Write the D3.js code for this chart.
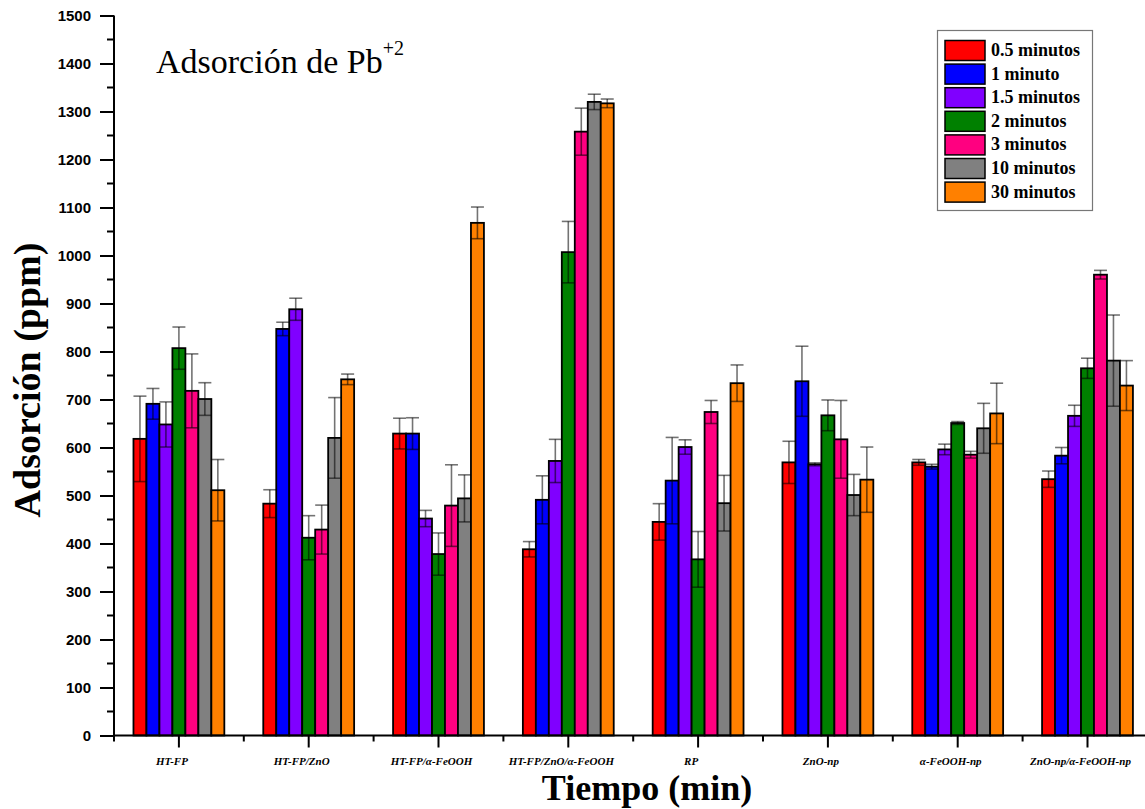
<!DOCTYPE html>
<html>
<head>
<meta charset="utf-8">
<script src="https://cdn.jsdelivr.net/npm/d3@7/dist/d3.min.js"></script>
<style>
  html, body { margin: 0; padding: 0; background: #fff; }
  svg { display: block; }
</style>
</head>
<body>
<script>
// Lead (Pb+2) adsorption per material, for each contact time
const categories = ["HT-FP", "HT-FP/ZnO", "HT-FP/α-FeOOH", "HT-FP/ZnO/α-FeOOH", "RP", "ZnO-np", "α-FeOOH-np", "ZnO-np/α-FeOOH-np"];
const seriesNames = ["0.5 minutos", "1 minuto", "1.5 minutos", "2 minutos", "3 minutos", "10 minutos", "30 minutos"];
const seriesColors = ["#FF0000", "#0000FF", "#8000FF", "#008000", "#FF0080", "#808080", "#FF8000"];

const min05 = [618, 483, 629, 388, 445, 569, 569, 534];
const min1  = [691, 847, 629, 491, 531, 738, 560, 583];
const min15 = [648, 888, 452, 572, 601, 565, 596, 666];
const min2  = [807, 412, 378, 1007, 367, 667, 651, 765];
const min3  = [718, 429, 479, 1258, 674, 617, 585, 960];
const min10 = [701, 620, 494, 1320, 484, 501, 640, 781];
const min30 = [511, 742, 1068, 1317, 734, 533, 671, 729];

const err05 = [89, 29, 32, 16, 38, 44, 6, 17];
const err1  = [32, 14, 33, 50, 90, 73, 5, 17];
const err15 = [47, 23, 17, 45, 15, 3, 11, 22];
const err2  = [44, 46, 44, 64, 58, 32, 3, 21];
const err3  = [77, 51, 85, 49, 24, 81, 7, 9];
const err10 = [34, 84, 49, 16, 58, 43, 52, 95];
const err30 = [64, 11, 33, 9, 38, 68, 63, 52];

const yTicks = [0, 100, 200, 300, 400, 500, 600, 700, 800, 900, 1000, 1100, 1200, 1300, 1400, 1500];

const values = [min05, min1, min15, min2, min3, min10, min30];
const errors = [err05, err1, err15, err2, err3, err10, err30];

const W = 1145, H = 809;
const svg = d3.select("body").append("svg").attr("width", W).attr("height", H);

const plotLeft = 114, plotBottom = 735.5, plotTop = 15.5;
const step = 129.8;
const plotRight = plotLeft + step * categories.length;

const x = d3.scaleBand().domain(categories).range([plotLeft, plotRight]).paddingInner(0.3).paddingOuter(0.15);
const xs = d3.scaleBand().domain(d3.range(seriesNames.length)).range([0, x.bandwidth()]);
const y = d3.scaleLinear().domain([0, 1500]).range([plotBottom, plotTop]);

// bars
const rows = [];
values.forEach((arr, s) => arr.forEach((v, c) => rows.push({ s, c, v, e: errors[s][c] })));

const g = svg.append("g");
g.selectAll("rect.bar").data(rows).join("rect")
  .attr("class", "bar")
  .attr("x", d => x(categories[d.c]) + xs(d.s))
  .attr("y", d => y(d.v))
  .attr("width", xs.bandwidth())
  .attr("height", d => y(0) - y(d.v))
  .attr("fill", d => seriesColors[d.s])
  .attr("stroke", "#000")
  .attr("stroke-width", 1.8);

// error bars
const eb = g.append("g").attr("stroke", "rgba(0,0,0,0.55)").attr("stroke-width", 1.6).attr("fill", "none");
rows.forEach(d => {
  const x0 = x(categories[d.c]) + xs(d.s);
  const xm = x0 + xs.bandwidth() / 2;
  const x1 = x0 + xs.bandwidth();
  const y1 = y(d.v + d.e), y2 = y(d.v - d.e);
  eb.append("line").attr("x1", xm).attr("x2", xm).attr("y1", y1).attr("y2", y2);
  eb.append("line").attr("x1", x0).attr("x2", x1).attr("y1", y1).attr("y2", y1);
  eb.append("line").attr("x1", x0).attr("x2", x1).attr("y1", y2).attr("y2", y2);
});

// y axis
const yAxis = svg.append("g").attr("transform", `translate(${plotLeft},0)`)
  .call(d3.axisLeft(y).tickValues(yTicks).tickSize(14).tickPadding(9).tickFormat(d3.format("d")));
yAxis.select(".domain").attr("stroke", "#000").attr("stroke-width", 2).attr("d", `M0,${plotBottom}V${plotTop}`);
yAxis.selectAll(".tick line").attr("stroke-width", 2);
yAxis.selectAll(".tick text").attr("font-family", "'Liberation Sans', Arial, sans-serif")
  .attr("font-weight", "bold").attr("font-size", 15).attr("fill", "#000");
// minor y ticks
svg.append("g").selectAll("line").data(yTicks.slice(0, -1).map(t => t + 50)).join("line")
  .attr("x1", plotLeft - 7).attr("x2", plotLeft).attr("y1", d => y(d)).attr("y2", d => y(d))
  .attr("stroke", "#000").attr("stroke-width", 2);

// x axis
const xAxis = svg.append("g").attr("transform", `translate(0,${plotBottom})`)
  .call(d3.axisBottom(x).tickSize(12).tickPadding(10));
xAxis.select(".domain").attr("stroke", "#000").attr("stroke-width", 2.2).attr("d", `M${plotLeft},0H${plotRight}`);
xAxis.selectAll(".tick line").attr("stroke-width", 2);
xAxis.selectAll(".tick text").attr("font-family", "'Liberation Serif', 'Times New Roman', serif")
  .attr("font-style", "italic").attr("font-weight", "bold").attr("font-size", 11).attr("fill", "#000")
  .attr("dx", -7);
// minor x ticks at band boundaries
svg.append("g").selectAll("line").data(categories).join("line")
  .attr("x1", d => x(d) - x.step() * x.paddingOuter()).attr("x2", d => x(d) - x.step() * x.paddingOuter())
  .attr("y1", plotBottom).attr("y2", plotBottom + 6)
  .attr("stroke", "#000").attr("stroke-width", 2);

// axis titles
svg.append("text")
  .attr("x", 647).attr("y", 800).attr("text-anchor", "middle")
  .attr("font-family", "'Liberation Serif', 'Times New Roman', serif").attr("font-weight", "bold")
  .attr("font-size", 36).text("Tiempo (min)");

svg.append("text")
  .attr("transform", "translate(40,380) rotate(-90)").attr("text-anchor", "middle")
  .attr("font-family", "'Liberation Serif', 'Times New Roman', serif").attr("font-weight", "bold")
  .attr("font-size", 38).text("Adsorción (ppm)");

// chart title with superscript charge
const title = svg.append("text").attr("x", 156).attr("y", 73)
  .attr("font-family", "'Liberation Serif', 'Times New Roman', serif").attr("font-size", 34);
title.append("tspan").text("Adsorción de Pb");
title.append("tspan").attr("dy", -18).attr("font-size", 20).text("+2");

// legend
const lg = svg.append("g");
lg.append("rect").attr("x", 937.5).attr("y", 30.5).attr("width", 155).attr("height", 180)
  .attr("fill", "#fff").attr("stroke", "#777").attr("stroke-width", 1.2);
seriesNames.forEach((name, i) => {
  const yy = 40.5 + i * 23.6;
  lg.append("rect").attr("x", 945).attr("y", yy).attr("width", 40).attr("height", 20)
    .attr("fill", seriesColors[i]).attr("stroke", "#000").attr("stroke-width", 1.5);
  lg.append("text").attr("x", 991).attr("y", yy + 15.5)
    .attr("font-family", "'Liberation Serif', 'Times New Roman', serif").attr("font-weight", "bold")
    .attr("font-size", 18).text(name);
});
</script>
</body>
</html>
